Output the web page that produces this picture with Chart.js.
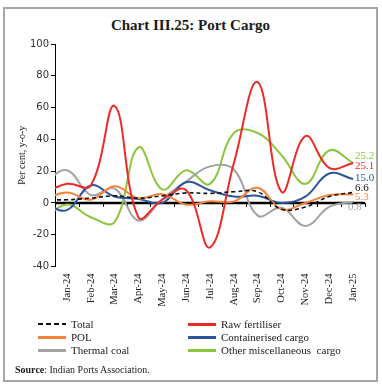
<!DOCTYPE html>
<html>
<head>
<meta charset="utf-8">
<script src="https://cdn.jsdelivr.net/npm/chart.js@4.4.1/dist/chart.umd.min.js"></script>
<style>
  html, body { margin: 0; padding: 0; background: #fff; }
  #wrap { position: relative; width: 382px; height: 386px; overflow: hidden; font-family: "Liberation Serif", serif; color: #222; }
  #frame { position: absolute; left: 3px; top: 7px; width: 371px; height: 371px; border: 2px solid #a6a6a6; }
  #title { position: absolute; left: 3px; width: 375px; top: 16px; text-align: center; font-weight: bold; font-size: 15px; line-height: 18px; color: #1a1a1a; }
  canvas { position: absolute; left: 0; top: 0; }
  .leg { position: absolute; font-size: 11px; line-height: 13px; white-space: pre; }
  .leg i { position: absolute; left: -33px; top: 5px; width: 28px; height: 3px; }
  #source { position: absolute; left: 15px; top: 363px; font-size: 10px; line-height: 13px; }
</style>
</head>
<body>
<div id="wrap">
  <div id="frame"></div>
  <div id="title">Chart III.25: Port Cargo</div>
  <canvas id="c" width="382" height="386"></canvas>
  <div id="legend"></div>
  <div id="source"><b>Source</b>: Indian Ports Association.</div>
</div>
<script>
// Dec-23 sits just off the left edge so the curves run into the axis
const months = ['Dec-23', 'Jan-24', 'Feb-24', 'Mar-24', 'Apr-24', 'May-24', 'Jun-24', 'Jul-24',
  'Aug-24', 'Sep-24', 'Oct-24', 'Nov-24', 'Dec-24', 'Jan-25'];

const total         = [2, 2, 3, 4.5, 3, 4.5, 6.3, 6, 7, 7, -4, -2.5, 4, 6.6];
const rawFertiliser = [6, 12, 11, 61, -9, 2, 8, -28, 25, 76, 7, 42, 22, 25.1];
const pol           = [2, 6.5, 2, 10.5, 3, 5.5, -1, 1, 1, 9.5, -4, 0, 5, 5.3];
const containerised = [0, -4.5, 11, 4, 2.5, 0, 13, 8, 4, 4.5, 0, 4, 18.5, 15.0];
const thermalCoal   = [12, 20.5, 5, 9, -11, 2.5, 13.5, 23, 21, -8, -3, -14.5, -2.5, 0.8];
const otherCargo    = [-11, -1, -9, -12, 35, 8.5, 20.5, 12, 44, 44, 30, 12, 33, 25.2];

const seriesNames = ['Total', 'Raw fertiliser', 'POL', 'Containerised cargo', 'Thermal coal', 'Other miscellaneous  cargo'];
const seriesData = [total, rawFertiliser, pol, containerised, thermalCoal, otherCargo];
const seriesColors = ['#111111', '#ee2a24', '#f5833a', '#2b569e', '#a3a3a3', '#8cc63f'];

// end label nudges (px) so the values don't collide
const labelShift = [[2, -4], [2, 3], [2, 3], [2, -1], [-5, 5], [2, -7]];

const zeroAndTicks = {
  id: 'zeroAndTicks',
  beforeDatasetsDraw(chart) {
    const { ctx, chartArea: a, scales: { x, y } } = chart;
    const y0 = y.getPixelForValue(0);
    ctx.save();
    ctx.strokeStyle = '#000';
    ctx.lineWidth = 1;
    ctx.beginPath();
    for (let i = 1; i < months.length; i++) {
      const px = Math.round(x.getPixelForValue(i + 0.5)) + 0.5;
      ctx.moveTo(px, y0);
      ctx.lineTo(px, y0 + 4);
    }
    ctx.stroke();
    ctx.lineWidth = 2.5;
    ctx.beginPath();
    ctx.moveTo(a.left, y0);
    ctx.lineTo(a.right, y0);
    ctx.stroke();
    ctx.restore();
  }
};

const endLabels = {
  id: 'endLabels',
  afterDatasetsDraw(chart) {
    const ctx = chart.ctx;
    ctx.save();
    ctx.font = '11px "Liberation Serif"';
    ctx.textBaseline = 'middle';
    chart.data.datasets.forEach((ds, i) => {
      const pts = chart.getDatasetMeta(i).data;
      const p = pts[pts.length - 1];
      const v = ds.data[ds.data.length - 1];
      ctx.fillStyle = ds.borderColor;
      ctx.fillText(v.toFixed(1), p.x + labelShift[i][0], p.y + labelShift[i][1]);
    });
    ctx.restore();
  }
};

new Chart(document.getElementById('c'), {
  type: 'line',
  data: {
    labels: months,
    datasets: seriesData.map((d, i) => ({
      label: seriesNames[i],
      data: d,
      borderColor: seriesColors[i],
      borderWidth: i === 0 ? 1.6 : 2,
      borderDash: i === 0 ? [4, 3] : [],
      pointRadius: 0,
      tension: 0.4,
      fill: false
    }))
  },
  options: {
    responsive: false,
    animation: false,
    layout: { padding: { left: 0, right: 17, top: 44, bottom: 79.5 } },
    plugins: { legend: { display: false }, tooltip: { enabled: false } },
    scales: {
      x: {
        min: 'Jan-24',
        offset: true,
        grid: { display: false, drawTicks: false },
        border: { display: false },
        ticks: {
          autoSkip: false, maxRotation: 90, minRotation: 90, padding: 7,
          color: '#222', font: { family: 'Liberation Serif', size: 10.5 }
        },
        afterFit(s) { s.height = 40; }
      },
      y: {
        min: -40,
        max: 100,
        ticks: { stepSize: 20, padding: 2, color: '#333', font: { family: 'DejaVu Sans', size: 10 } },
        grid: { drawOnChartArea: false, tickLength: 4, color: '#000' },
        border: { color: '#000' },
        title: {
          display: true, text: 'Per cent, y-o-y', color: '#222',
          font: { family: 'Liberation Serif', size: 10 }, padding: { top: 16, bottom: 0 }
        },
        afterFit(s) { s.width = 55; }
      }
    }
  },
  plugins: [zeroAndTicks, endLabels]
});

// two-column legend
const legend = document.getElementById('legend');
const colX = [71, 221];
const rowY = [318, 331, 344];
seriesNames.forEach((name, i) => {
  const el = document.createElement('div');
  el.className = 'leg';
  el.style.left = colX[i % 2] + 'px';
  el.style.top = rowY[Math.floor(i / 2)] + 'px';
  const sw = document.createElement('i');
  if (i === 0) {
    sw.style.background = 'repeating-linear-gradient(to right, #111 0 5px, transparent 5px 8px)';
    sw.style.height = '2px';
  } else {
    sw.style.background = seriesColors[i];
  }
  el.appendChild(sw);
  el.appendChild(document.createTextNode(name));
  legend.appendChild(el);
});
</script>
</body>
</html>
